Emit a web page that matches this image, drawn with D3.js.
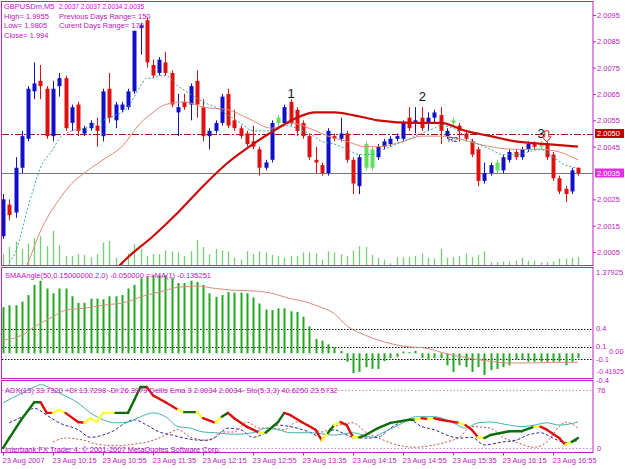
<!DOCTYPE html>
<html><head><meta charset="utf-8">
<script src="https://cdn.jsdelivr.net/npm/d3@7"></script>
<style>
body{margin:0;background:#fff}
svg{display:block}
text{font-family:"Liberation Sans",Arial,sans-serif}
</style>
</head><body>
<svg id="c" width="625" height="469"></svg>
<script>
// ---------- DATA ----------
const timeLabels = ["23 Aug 2007","23 Aug 10:15","23 Aug 10:55","23 Aug 11:35","23 Aug 12:15","23 Aug 12:55","23 Aug 13:35","23 Aug 14:15","23 Aug 14:55","23 Aug 15:35","23 Aug 16:15","23 Aug 16:55"];
const priceTicks = [2.0095,2.0085,2.0075,2.0065,2.0055,2.0045,2.0025,2.0015,2.0005];

const openP  = [2.0011,2.0023,2.0020,2.0037,2.0048,2.0066,2.0070,2.0067,2.0049,2.0068,2.0071,2.0054,2.0061,2.0050,2.0052,2.0053,2.0049,2.0067,2.0055,2.0059,2.0060,2.0066,2.0090,2.0093,2.0076,2.0073,2.0077,2.0073,2.0058,2.0062,2.0061,2.0070,2.0060,2.0049,2.0051,2.0054,2.0065,2.0055,2.0052,2.0050,2.0047,2.0044,2.0037,2.0040,2.0054,2.0054,2.0062,2.0059,2.0054,2.0049,2.0040,2.0038,2.0035,2.0049,2.0048,2.0050,2.0040,2.0030,2.0037,2.0037,2.0041,2.0045,2.0046,2.0048,2.0048,2.0056,2.0054,2.0056,2.0054,2.0056,2.0057,2.0049,2.0054,2.0053,2.0050,2.0047,2.0044,2.0032,2.0035,2.0036,2.0036,2.0040,2.0043,2.0041,2.0044,2.0046,2.0045,2.0046,2.0042,2.0033,2.0029,2.0028,2.0037];
const highP  = [2.0027,2.0025,2.0041,2.0051,2.0068,2.0077,2.0076,2.0068,2.0070,2.0073,2.0072,2.0061,2.0062,2.0053,2.0055,2.0056,2.0067,2.0073,2.0062,2.0062,2.0067,2.0089,2.0092,2.0094,2.0078,2.0079,2.0081,2.0074,2.0065,2.0065,2.0069,2.0074,2.0063,2.0052,2.0055,2.0065,2.0067,2.0059,2.0053,2.0051,2.0053,2.0045,2.0040,2.0055,2.0057,2.0061,2.0063,2.0060,2.0055,2.0050,2.0045,2.0039,2.0052,2.0050,2.0056,2.0051,2.0041,2.0042,2.0047,2.0045,2.0046,2.0048,2.0049,2.0050,2.0055,2.0060,2.0060,2.0060,2.0058,2.0059,2.0060,2.0052,2.0056,2.0054,2.0051,2.0048,2.0045,2.0039,2.0039,2.0040,2.0042,2.0044,2.0044,2.0045,2.0047,2.0047,2.0047,2.0047,2.0043,2.0034,2.0030,2.0037,2.0037];
const lowP   = [2.0010,2.0017,2.0018,2.0035,2.0047,2.0063,2.0063,2.0048,2.0047,2.0064,2.0051,2.0051,2.0049,2.0049,2.0051,2.0045,2.0047,2.0054,2.0052,2.0058,2.0059,2.0065,2.0080,2.0075,2.0071,2.0072,2.0072,2.0060,2.0049,2.0059,2.0055,2.0056,2.0047,2.0044,2.0050,2.0053,2.0052,2.0051,2.0048,2.0045,2.0044,2.0034,2.0036,2.0039,2.0053,2.0053,2.0053,2.0049,2.0048,2.0040,2.0035,2.0034,2.0034,2.0047,2.0047,2.0039,2.0027,2.0027,2.0036,2.0036,2.0040,2.0044,2.0045,2.0047,2.0047,2.0051,2.0050,2.0051,2.0051,2.0054,2.0046,2.0048,2.0053,2.0047,2.0047,2.0041,2.0030,2.0031,2.0034,2.0035,2.0035,2.0039,2.0040,2.0040,2.0043,2.0044,2.0044,2.0040,2.0032,2.0027,2.0024,2.0027,2.0034];
const closeP = [2.0025,2.0019,2.0037,2.0049,2.0067,2.0069,2.0068,2.0049,2.0067,2.0071,2.0052,2.0060,2.0051,2.0052,2.0054,2.0051,2.0066,2.0056,2.0061,2.0061,2.0066,2.0089,2.0091,2.0077,2.0072,2.0078,2.0073,2.0061,2.0060,2.0060,2.0068,2.0061,2.0049,2.0051,2.0054,2.0064,2.0053,2.0052,2.0049,2.0046,2.0045,2.0037,2.0039,2.0054,2.0056,2.0060,2.0054,2.0051,2.0049,2.0041,2.0039,2.0035,2.0051,2.0048,2.0050,2.0040,2.0031,2.0041,2.0046,2.0044,2.0045,2.0047,2.0048,2.0049,2.0054,2.0052,2.0055,2.0052,2.0056,2.0058,2.0051,2.0051,2.0055,2.0051,2.0048,2.0042,2.0032,2.0035,2.0038,2.0039,2.0041,2.0043,2.0041,2.0044,2.0046,2.0045,2.0046,2.0041,2.0033,2.0028,2.0027,2.0036,2.0035];
const greenBars = [44,58,59,72,79,86];
const volume = [30,50,65,45,60,75,80,52,95,55,25,25,30,28,22,30,62,67,20,10,32,58,45,25,30,30,40,38,35,25,38,70,50,30,45,40,38,20,15,38,30,38,35,28,25,20,25,25,35,35,32,15,38,35,30,25,40,52,50,28,20,15,5,22,22,22,25,32,20,18,45,20,22,25,32,22,28,38,8,8,10,10,12,20,12,12,8,8,10,18,18,20,22];

const maSlowIdx = [17,20,24,28,32,36,40,44,47,50,53,56,60,66,70,74,78,82,87,92];
const maSlowVal = [1.9996,2.0003,2.0011,2.0020,2.0030,2.0039,2.0046,2.0052,2.0056,2.0058,2.0058,2.0057,2.0055,2.0054,2.0054,2.0051,2.0049,2.0047,2.0046,2.0045];
const maMidIdx = [3,4,6,9,11,13,16,19,22,24,26,29,32,36,39,43,46,49,52,55,58,60,64,67,70,73,76,82,86,89,92];
const maMidVal = [1.9996,2.0001,2.0013,2.0025,2.0031,2.0035,2.0040,2.0045,2.0054,2.0058,2.0061,2.0062,2.0060,2.0059,2.0056,2.0052,2.0054,2.0052,2.0049,2.0047,2.0045,2.0045,2.0047,2.0049,2.0049,2.0048,2.0046,2.0044,2.0044,2.0043,2.0040];
const maFastIdx = [1,2,4,5,6,8,9,11,13,15,18,19,20,21,22,23,24,25,26,28,30,32,34,36,38,40,42,44,45,47,49,51,53,55,57,59,61,63,65,67,69,70,72,74,76,78,80,82,84,86,88,90,92];
const maFastVal = [2.0001,2.0005,2.0022,2.0030,2.0037,2.0044,2.0048,2.0051,2.0052,2.0054,2.0057,2.0058,2.0060,2.0064,2.0068,2.0071,2.0071,2.0072,2.0072,2.0068,2.0065,2.0062,2.0060,2.0057,2.0054,2.0051,2.0051,2.0052,2.0053,2.0052,2.0050,2.0047,2.0046,2.0044,2.0042,2.0042,2.0044,2.0046,2.0048,2.0050,2.0052,2.0053,2.0052,2.0049,2.0046,2.0044,2.0042,2.0042,2.0043,2.0044,2.0041,2.0038,2.0037];
const resistLevel = 2.0050;
const bidLevel = 2.0035;

const angleVals = [0.77,0.80,0.80,0.86,0.97,1.14,1.21,1.08,1.00,1.08,1.08,0.95,0.84,0.84,0.91,0.91,0.90,0.95,0.95,0.97,1.08,1.14,1.25,1.28,1.30,1.30,1.30,1.25,1.17,1.17,1.21,1.19,1.14,1.00,0.94,0.97,1.02,1.01,1.01,1.00,0.93,0.83,0.73,0.72,0.75,0.75,0.70,0.69,0.61,0.45,0.24,0.21,0.15,0.10,0.04,-0.14,-0.33,-0.31,-0.23,-0.26,-0.26,-0.13,-0.08,-0.06,0.03,0.02,0.04,-0.08,-0.11,-0.08,-0.08,-0.20,-0.31,-0.20,-0.23,-0.31,-0.23,-0.36,-0.28,-0.26,-0.23,-0.20,-0.11,-0.11,-0.14,-0.14,-0.14,-0.14,-0.14,-0.14,-0.20,-0.14,-0.08];
const angleMaIdx = [0,3,5,8,10,13,16,20,22,25,28,31,34,37,40,43,46,48,50,53,55,58,61,64,68,71,74,77,81,85,88,92];
const angleMaVal = [0.22,0.30,0.44,0.61,0.72,0.75,0.80,0.86,0.94,1.02,1.10,1.12,1.08,1.05,1.04,1.00,0.91,0.87,0.80,0.66,0.46,0.30,0.19,0.12,0.08,-0.01,-0.07,-0.12,-0.16,-0.16,-0.15,-0.15];
const angleLevels = [0.4,0.1,-0.1];
const angleLabels = ["1.37925","0.4","0.1","0.00","-0.1","-0.41925","-0.4"];

const adxIdx   = [0,1,3,5,6,7,8,9,10,12,13,14,15,16,18,20,21,22,23,24,26,28,29,31,32,34,35,36,37,39,41,42,44,45,46,48,50,51,52,53,54,55,56,57,58,60,62,65,66,67,68,69,70,73,74,75,76,77,78,81,83,85,86,87,89,90,91,92];
const adxVal   = [0,13,38,60,60,46,46,50,46,34,33,39,34,46,46,46,63,80,80,69,60,50,47,47,39,33,41,46,39,28,20,20,34,46,43,33,24,10,20,30,34,30,14,14,17,26,33,37,37,39,38,39,37,33,30,24,14,13,17,22,22,28,28,24,13,4,8,13];
const adxState = ["g","g","g","g","g","r","r","y","y","r","r","y","y","y","y","g","g","g","g","r","r","r","y","g","y","r","y","g","r","r","r","y","g","g","r","r","r","r","y","g","y","r","r","y","g","g","g","g","g","y","r","y","r","r","y","r","r","y","g","g","g","g","y","r","r","r","y","g"];
const adxLineIdx = [0,3,5,6,9,12,14,16,18,20,22,24,26,28,30,32,34,37,40,42,44,46,49,53,56,59,61,64,66,69,72,74,76,78,81,83,85,87,89,92];
const adxLineVal = [59,72,80,83,72,59,46,37,33,34,41,46,41,28,26,21,20,18,20,26,24,20,20,17,20,14,21,33,41,41,33,26,33,34,30,28,30,33,30,34];
const plusDiIdx = [1,3,5,7,9,12,14,16,18,19,21,23,25,27,29,32,34,36,38,40,42,44,46,49,51,53,54,56,58,60,62,65,67,69,71,73,75,77,80,82,84,86,88,90,92];
const plusDiVal = [33,41,52,43,33,24,14,17,24,30,37,30,21,17,13,10,14,26,24,14,20,30,28,21,14,24,21,14,13,14,26,37,28,24,17,13,14,4,8,10,17,20,13,7,10];
const minusDiIdx = [8,10,13,15,18,21,24,26,28,30,33,35,37,39,41,43,45,47,49,51,53,56,58,61,63,66,69,71,73,75,78,80,82,85,87,89,90,92];
const minusDiVal = [8,13,10,5,3,5,10,17,24,14,10,21,21,34,26,26,24,34,30,21,28,33,21,10,4,1,4,8,14,28,26,14,8,1,8,28,34,26];

const symbolText = "GBPUSDm,M5";
const quoteText = "2.0037 2.0037 2.0034 2.0035";
const headerLines = ["High= 1.9955","Low= 1.9805","Close= 1.994"];
const headerRight = ["Previous Days Range= 150","Curent Days Range= 170"];
const angleTitle = "SMAAngle(50,0.15000000,2.0) -0.050000  =>MA(1) -0.135251";
const adxTitle = "ADX(13) 33.7320 +DI:13.7298 -DI:26.3979 Dellis Ema 3 2.0034 2.0034- Sto(5,3,3) 40.6250 23.5732";
const copyright = "Interbank FX Trader 4, © 2001-2007 MetaQuotes Software Corp.";
const waveMarks = [{t:"1",i:46,p:2.0065},{t:"2",i:67,p:2.0064},{t:"3",i:86,p:2.0050}];

// ---------- DRAW ----------
const svg = d3.select('#c');
const MAG = '#c020c0', FONT = '"Liberation Sans",Arial,sans-serif';
const RIGHT = 593;

const x  = d3.scaleLinear().domain([0,92]).range([3,578]);
const yP = d3.scaleLinear().domain([2.0000,2.0100]).range([265.2,1.8]);
const yV = d3.scaleLinear().domain([0,100]).range([265,229]);
const yA = d3.scaleLinear().domain([-0.41925,1.37925]).range([378.5,270.5]);
const yS = d3.scaleLinear().domain([0,76]).range([448,390]);

svg.append('rect').attr('width',625).attr('height',469).attr('fill','#fff');

const defs = svg.append('defs');
function clip(id,y0,y1){ defs.append('clipPath').attr('id',id).append('rect').attr('x',2).attr('y',y0).attr('width',RIGHT-2).attr('height',y1-y0); }
clip('cMain',2,265); clip('cA',268,378); clip('cS',381,452);

// ===== main panel =====
const gM = svg.append('g').attr('clip-path','url(#cMain)');
gM.selectAll('.vol').data(volume).join('line')
  .attr('x1',(d,i)=>Math.round(x(i))+0.5).attr('x2',(d,i)=>Math.round(x(i))+0.5)
  .attr('y1',yV(0)).attr('y2',d=>yV(d)).attr('stroke','#72cf72').attr('stroke-width',1.3);
gM.append('line').attr('x1',2).attr('x2',RIGHT).attr('y1',Math.round(yP(bidLevel))+0.5).attr('y2',Math.round(yP(bidLevel))+0.5)
  .attr('stroke','#777').attr('stroke-width',1);
gM.append('line').attr('x1',2).attr('x2',RIGHT).attr('y1',Math.round(yP(resistLevel))+0.5).attr('y2',Math.round(yP(resistLevel))+0.5)
  .attr('stroke','#a01818').attr('stroke-width',1).attr('stroke-dasharray','7,2,2,2');
const candles = d3.range(openP.length).map(i=>({i,o:openP[i],h:highP[i],l:lowP[i],c:closeP[i]}));
const cCol = d => greenBars.includes(d.i) ? '#5fe05f' : (d.c>=d.o ? '#1010c8' : '#e01010');
gM.selectAll('.wick').data(candles).join('line')
  .attr('x1',d=>Math.round(x(d.i))+0.5).attr('x2',d=>Math.round(x(d.i))+0.5)
  .attr('y1',d=>yP(d.h)).attr('y2',d=>yP(d.l)).attr('stroke',cCol).attr('stroke-width',1);
gM.selectAll('.body').data(candles).join('rect')
  .attr('x',d=>Math.round(x(d.i))-1.5).attr('width',4)
  .attr('y',d=>yP(Math.max(d.o,d.c))).attr('height',d=>Math.max(1.2,Math.abs(yP(d.o)-yP(d.c))))
  .attr('fill',cCol);
const lineP = d3.line().x(d=>x(d[0])).y(d=>yP(d[1])).curve(d3.curveMonotoneX);
gM.append('path').attr('d',lineP(d3.zip(maMidIdx,maMidVal))).attr('fill','none').attr('stroke','#e08a78').attr('stroke-width',1);
gM.append('path').attr('d',lineP(d3.zip(maFastIdx,maFastVal))).attr('fill','none').attr('stroke','#33a6a6').attr('stroke-width',1).attr('stroke-dasharray','2,2');
gM.append('path').attr('d',lineP(d3.zip(maSlowIdx,maSlowVal))).attr('fill','none').attr('stroke','#cc0a0a').attr('stroke-width',2.2);
gM.selectAll('.wave').data(waveMarks).join('text')
  .attr('x',d=>x(d.i)-3).attr('y',d=>yP(d.p)+4).text(d=>d.t)
  .attr('font-size',13).attr('font-family',FONT).attr('fill','#111');
gM.append('text').attr('x',x(71)+1).attr('y',yP(2.0048)+3).text('R2')
  .attr('font-size',8).attr('font-family',FONT).attr('fill','#102080');
gM.append('path').attr('d',`M${x(87)-2},${yP(2.0051)} h4 v6 h2.5 l-4.5,5 l-4.5,-5 h2.5 z`)
  .attr('fill','#fff').attr('stroke','#dd2020').attr('stroke-width',1);

// header text
const gH = svg.append('g').attr('font-family',FONT).attr('font-size',7.5).attr('fill','#c010c0');
gH.append('text').attr('x',4).attr('y',9).text(symbolText);
gH.append('text').attr('x',59).attr('y',9).text(quoteText).attr('textLength',85).attr('lengthAdjust','spacingAndGlyphs');
gH.selectAll('.h1').data(headerLines).join('text').attr('x',4).attr('y',(d,i)=>18.6+i*9.6).text(d=>d);
gH.selectAll('.h2').data(headerRight).join('text').attr('x',59).attr('y',(d,i)=>18.6+i*9.6).text(d=>d);

// price axis
const axP = d3.axisRight(yP).tickValues(priceTicks).tickFormat(d3.format('.4f')).tickSize(3).tickPadding(1);
const gAx = svg.append('g').attr('transform',`translate(${RIGHT},0)`).call(axP)
  .attr('font-size',7.5).attr('font-family',FONT);
gAx.select('.domain').remove();
gAx.selectAll('line').attr('stroke',MAG);
gAx.selectAll('text').attr('fill',MAG);
function tag(p,bg,fg){
  const y = yP(p);
  svg.append('rect').attr('x',RIGHT+2).attr('y',y-4.5).attr('width',29).attr('height',9).attr('fill',bg);
  svg.append('text').attr('x',RIGHT+4).attr('y',y+2.7).text(d3.format('.4f')(p))
    .attr('font-size',7.5).attr('font-family',FONT).attr('fill',fg);
}
tag(resistLevel,'#c00000','#fff');
tag(bidLevel,'#e030e0','#fff');

// ===== panel 2: SMAAngle =====
const gA = svg.append('g').attr('clip-path','url(#cA)');
gA.selectAll('.lv').data(angleLevels).join('line')
  .attr('x1',2).attr('x2',RIGHT).attr('y1',d=>Math.round(yA(d))+0.5).attr('y2',d=>Math.round(yA(d))+0.5)
  .attr('stroke','#111').attr('stroke-width',1).attr('stroke-dasharray','1.5,1.5');
gA.selectAll('.hist').data(angleVals).join('line')
  .attr('x1',(d,i)=>Math.round(x(i))+0.5).attr('x2',(d,i)=>Math.round(x(i))+0.5)
  .attr('y1',yA(0)).attr('y2',d=>yA(d)).attr('stroke','#20a820').attr('stroke-width',2);
gA.append('path').attr('d',d3.line().x(d=>x(d[0])).y(d=>yA(d[1])).curve(d3.curveMonotoneX)(d3.zip(angleMaIdx,angleMaVal)))
  .attr('fill','none').attr('stroke','#d88a7a').attr('stroke-width',1);
svg.append('text').attr('x',5).attr('y',277.5).text(angleTitle)
  .attr('font-size',7.5).attr('font-family',FONT).attr('fill','#c010c0');
const angLabelX = [596,596,596,609,596,597,596];
const angLabelY = [275,331,348.5,354,362,373.5,383];
svg.selectAll('.al').data(angleLabels).join('text')
  .attr('x',(d,i)=>angLabelX[i]).attr('y',(d,i)=>angLabelY[i]).text(d=>d)
  .attr('font-size',(d,i)=>(i===5?6.8:7.5)).attr('font-family',FONT).attr('fill',MAG);

// ===== panel 3: ADX / DI / Stoch =====
const gS = svg.append('g').attr('clip-path','url(#cS)');
[76,0].forEach(v=>{
  gS.append('line').attr('x1',2).attr('x2',RIGHT).attr('y1',Math.round(yS(v))+0.5).attr('y2',Math.round(yS(v))+0.5)
    .attr('stroke','#b890c0').attr('stroke-width',1).attr('stroke-dasharray','1.5,2');
});
const lineS = d3.line().x(d=>x(d[0])).y(d=>yS(d[1])).curve(d3.curveMonotoneX);
gS.append('path').attr('d',lineS(d3.zip(minusDiIdx,minusDiVal))).attr('fill','none').attr('stroke','#d04848').attr('stroke-width',1).attr('stroke-dasharray','2,2');
gS.append('path').attr('d',lineS(d3.zip(plusDiIdx,plusDiVal))).attr('fill','none').attr('stroke','#2a2a9e').attr('stroke-width',1).attr('stroke-dasharray','3,2');
gS.append('path').attr('d',lineS(d3.zip(adxLineIdx,adxLineVal))).attr('fill','none').attr('stroke','#44b0b0').attr('stroke-width',1);
const stCol = {g:'#0b6e0b',y:'#ffff30',r:'#dd1010'};
const segs = d3.range(1,adxIdx.length).map(k=>({a:[adxIdx[k-1],adxVal[k-1]],b:[adxIdx[k],adxVal[k]],s:adxState[k]}));
gS.selectAll('.seg').data(segs).join('line')
  .attr('x1',d=>x(d.a[0])).attr('y1',d=>yS(d.a[1])).attr('x2',d=>x(d.b[0])).attr('y2',d=>yS(d.b[1]))
  .attr('stroke',d=>stCol[d.s]).attr('stroke-width',2.4).attr('stroke-linecap','round');
svg.append('text').attr('x',5).attr('y',392.5).text(adxTitle)
  .attr('font-size',7.5).attr('font-family',FONT).attr('fill','#c010c0');
svg.append('text').attr('x',5).attr('y',451.5).text(copyright)
  .attr('font-size',7.5).attr('font-family',FONT).attr('fill','#a020a0');
svg.append('text').attr('x',597).attr('y',393).text('76').attr('font-size',7.5).attr('font-family',FONT).attr('fill',MAG);
svg.append('text').attr('x',597).attr('y',450.5).text('0').attr('font-size',7.5).attr('font-family',FONT).attr('fill',MAG);

// ===== frames =====
[[1.5,265.5],[267.5,378.5],[380.5,452.5]].forEach(([a,b])=>{
  svg.append('rect').attr('x',1.5).attr('y',a).attr('width',RIGHT-1.5).attr('height',b-a)
    .attr('fill','none').attr('stroke',MAG).attr('stroke-width',1);
});

// ===== time axis =====
const axT = d3.axisBottom(x).tickValues(d3.range(0,89,8)).tickFormat((d,i)=>timeLabels[i]).tickSize(3).tickPadding(2);
const gT = svg.append('g').attr('transform','translate(0,452.5)').call(axT)
  .attr('font-size',7.5).attr('font-family',FONT);
gT.select('.domain').remove();
gT.selectAll('line').attr('stroke',MAG);
gT.selectAll('text').attr('fill',MAG).attr('text-anchor','start').attr('dx',-1);
</script>
</body></html>
